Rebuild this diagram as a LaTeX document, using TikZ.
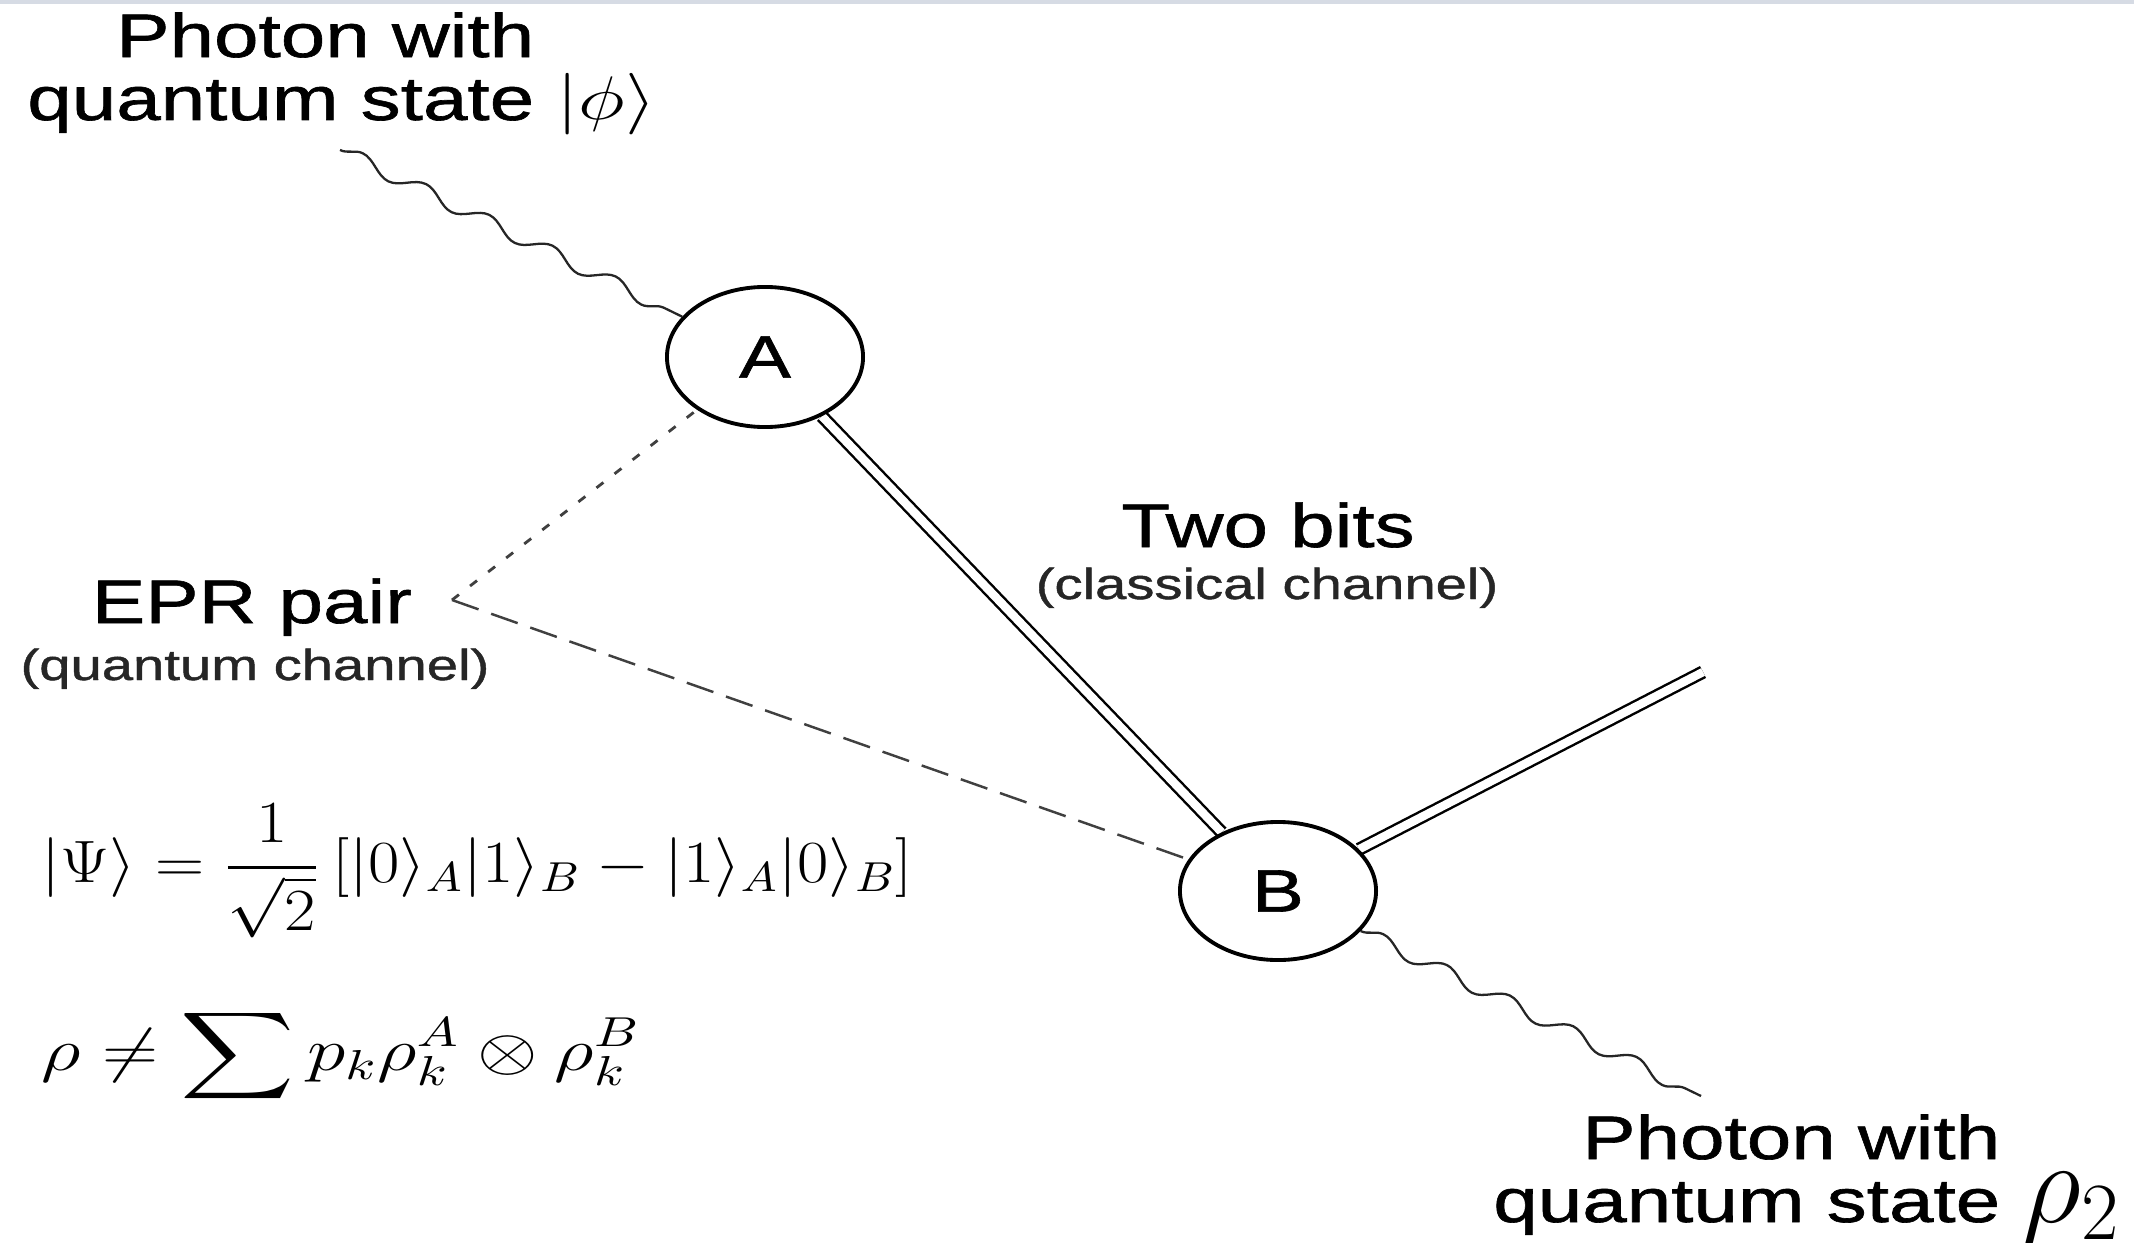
\RequirePackage{fix-cm}
\documentclass[tikz,border=0pt]{standalone}
\usepackage{graphicx}
\usepackage{exscale}
\usepackage[no-math]{fontspec}
\setmainfont{Liberation Sans}[FakeStretch=1.3,FakeBold=1]
\usetikzlibrary{shapes.geometric,decorations.pathmorphing}
\pgfdeclarelayer{background}
\pgfsetlayers{background,main}
\definecolor{topbar}{RGB}{214,219,228}
\newcommand\hstretch[1]{\scalebox{1.3}[1]{#1}}
\newcommand\eqstretch[2]{\scalebox{#1}[1]{#2}}
\begin{document}
\begin{tikzpicture}[x=0.01cm,y=-0.01cm,
  station/.style={ellipse,draw,line width=1.1pt,minimum width=1.96cm,minimum height=1.40cm,inner sep=0pt,font=\fontsize{17}{20}\selectfont},
  lbltxt/.style={inner sep=0pt,font=\fontsize{17.5}{17.9}\selectfont},
  smalltxt/.style={inner sep=0pt,font=\fontsize{12.3}{15}\selectfont,black!85},
  eqtxt/.style={inner sep=0pt,font=\fontsize{17}{20}\selectfont},
  classical/.style={double,double distance=2.4pt,line width=0.7pt},
  photon/.style={decorate,decoration={snake,amplitude=2pt,segment length=20pt},line width=0.65pt,black!85},
  eprnear/.style={dash pattern=on 2.5pt off 4pt,line width=0.8pt,black!75},
  eprfar/.style={dash pattern=on 8pt off 3.8pt,line width=0.7pt,black!75}]
\useasboundingbox (0,0) rectangle (2134,1243);
\fill[topbar] (0,0) rectangle (2134,4);

\node[station] (A) at (765,357) {A};
\node[station,minimum height=1.38cm] (B) at (1278,891) {B};

\node[lbltxt,align=right,anchor=base east] (top) at (535,120)
  {Photon with\\quantum state\rlap{ \hstretch{$|\phi\rangle$}}};
\node[lbltxt,anchor=base] (epr) at (252,623) {EPR pair};
\node[smalltxt,anchor=base] (eprnote) at (255,680) {(quantum channel)};
\node[lbltxt,anchor=base] (bits) at (1268,547) {Two bits};
\node[smalltxt,anchor=base] (bitsnote) at (1267,599) {(classical channel)};
\node[lbltxt,align=right,anchor=base east] (out) at (2001,1222)
  {Photon with\\quantum state\rlap{ {\fontsize{33}{33}\selectfont$\rho_2$}}};

\node[eqtxt,anchor=west] (eq1) at (41,871)
  {\eqstretch{1.14}{$\displaystyle |\Psi\rangle = \frac{1}{\sqrt{2}}\,[|0\rangle_A|1\rangle_B - |1\rangle_A|0\rangle_B]$}};
\node[eqtxt,anchor=west] (eq2) at (41,1056)
  {\eqstretch{1.3}{$\displaystyle \rho \neq \sum p_k \rho_k^A \otimes \rho_k^B$}};

\coordinate (E) at (452,600);
\coordinate (w1) at (340,150);
\coordinate (w2) at (1701,1096);
\coordinate (c2) at (1703,672);

\begin{pgfonlayer}{background}
\draw[eprnear] (E) -- (A);
\draw[eprfar] (E) -- (B);
\draw[classical] (A) -- (B);
\draw[classical] (B) -- (c2);
\draw[photon] (w1) -- (A);
\draw[photon] (B) -- (w2);
\end{pgfonlayer}
\end{tikzpicture}
\end{document}
